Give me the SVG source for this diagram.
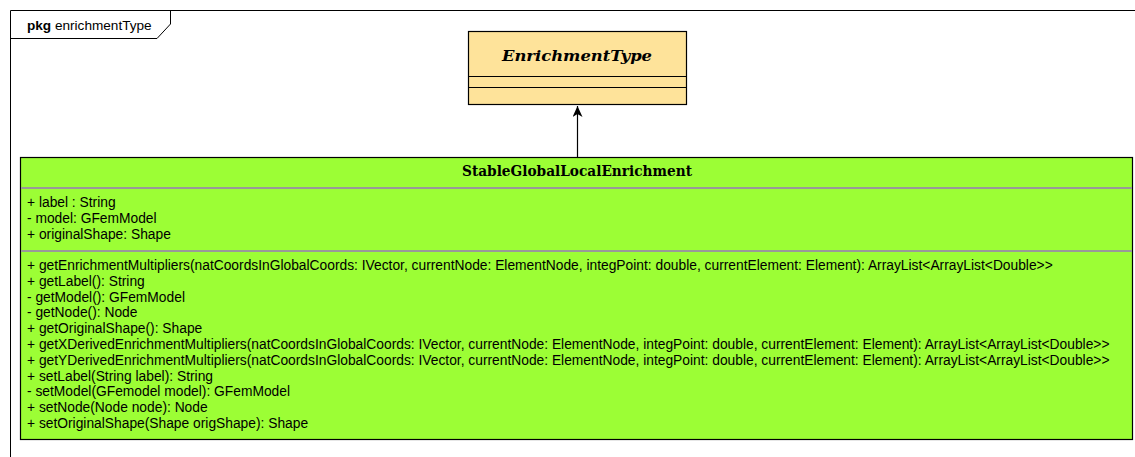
<svg xmlns="http://www.w3.org/2000/svg" width="1135" height="457" viewBox="0 0 1135 457">
<style>
.frame{fill:none;stroke:#000;stroke-width:1}
.cls{stroke:#000;stroke-width:1.2}
.div{stroke:#999;stroke-width:2}
.divb{stroke:#000;stroke-width:1}
.t{font-family:"Liberation Sans",Arial,sans-serif;font-size:13.8px;fill:#000}
.title{font-family:"DejaVu Serif",serif;font-weight:bold;font-size:14px;fill:#000;text-anchor:middle}
</style>
<defs>
<marker id="arr" markerWidth="12" markerHeight="12" refX="11" refY="5" orient="auto" markerUnits="userSpaceOnUse">
<path d="M0,0 L11,5 L0,10 L3,5 Z" fill="#000"/>
</marker>
</defs>
<rect width="1135" height="457" fill="#fff"/>
<g id="pkg">
<path class="frame" d="M10.5,457 L10.5,10.5 L1135,10.5"/>
<path class="frame" d="M10.5,38.5 L157,38.5 L170.5,24 L170.5,10.5"/>
<text x="27" y="29.5" font-family="'Liberation Sans',Arial,sans-serif" font-size="13.6"><tspan font-weight="bold">pkg</tspan> enrichmentType</text>
</g>
<g id="EnrichmentType">
<rect class="cls" x="468.5" y="31.5" width="218" height="73" fill="#fee39a"/>
<line class="divb" x1="468.5" y1="76.5" x2="686.5" y2="76.5"/>
<line class="divb" x1="468.5" y1="87.5" x2="686.5" y2="87.5"/>
<text class="title" x="577" y="61" font-style="italic" font-size="15" textLength="150" lengthAdjust="spacingAndGlyphs">EnrichmentType</text>
</g>
<g id="connectors">
<line x1="577.5" y1="157" x2="577.5" y2="106" stroke="#000" stroke-width="1.2" marker-end="url(#arr)"/>
</g>
<g id="StableGlobalLocalEnrichment">
<rect class="cls" x="20.5" y="157.5" width="1112" height="282" fill="#9cfe35"/>
<line class="div" x1="21" y1="188" x2="1132" y2="188"/>
<line class="div" x1="21" y1="251" x2="1132" y2="251"/>
<text class="title" x="577" y="176" textLength="230" lengthAdjust="spacingAndGlyphs">StableGlobalLocalEnrichment</text>
<text class="t" x="27" y="207">+ label : String</text>
<text class="t" x="27" y="223">- model: GFemModel</text>
<text class="t" x="27" y="238.5">+ originalShape: Shape</text>
<text class="t" x="27" y="270">+ getEnrichmentMultipliers(natCoordsInGlobalCoords: IVector, currentNode: ElementNode, integPoint: double, currentElement: Element): ArrayList&lt;ArrayList&lt;Double&gt;&gt;</text>
<text class="t" x="27" y="285.8">+ getLabel(): String</text>
<text class="t" x="27" y="301.6">- getModel(): GFemModel</text>
<text class="t" x="27" y="317.4">- getNode(): Node</text>
<text class="t" x="27" y="333.2">+ getOriginalShape(): Shape</text>
<text class="t" x="27" y="349">+ getXDerivedEnrichmentMultipliers(natCoordsInGlobalCoords: IVector, currentNode: ElementNode, integPoint: double, currentElement: Element): ArrayList&lt;ArrayList&lt;Double&gt;&gt;</text>
<text class="t" x="27" y="364.8">+ getYDerivedEnrichmentMultipliers(natCoordsInGlobalCoords: IVector, currentNode: ElementNode, integPoint: double, currentElement: Element): ArrayList&lt;ArrayList&lt;Double&gt;&gt;</text>
<text class="t" x="27" y="380.6">+ setLabel(String label): String</text>
<text class="t" x="27" y="396.4">- setModel(GFemodel model): GFemModel</text>
<text class="t" x="27" y="412.2">+ setNode(Node node): Node</text>
<text class="t" x="27" y="428">+ setOriginalShape(Shape origShape): Shape</text>
</g>
</svg>
